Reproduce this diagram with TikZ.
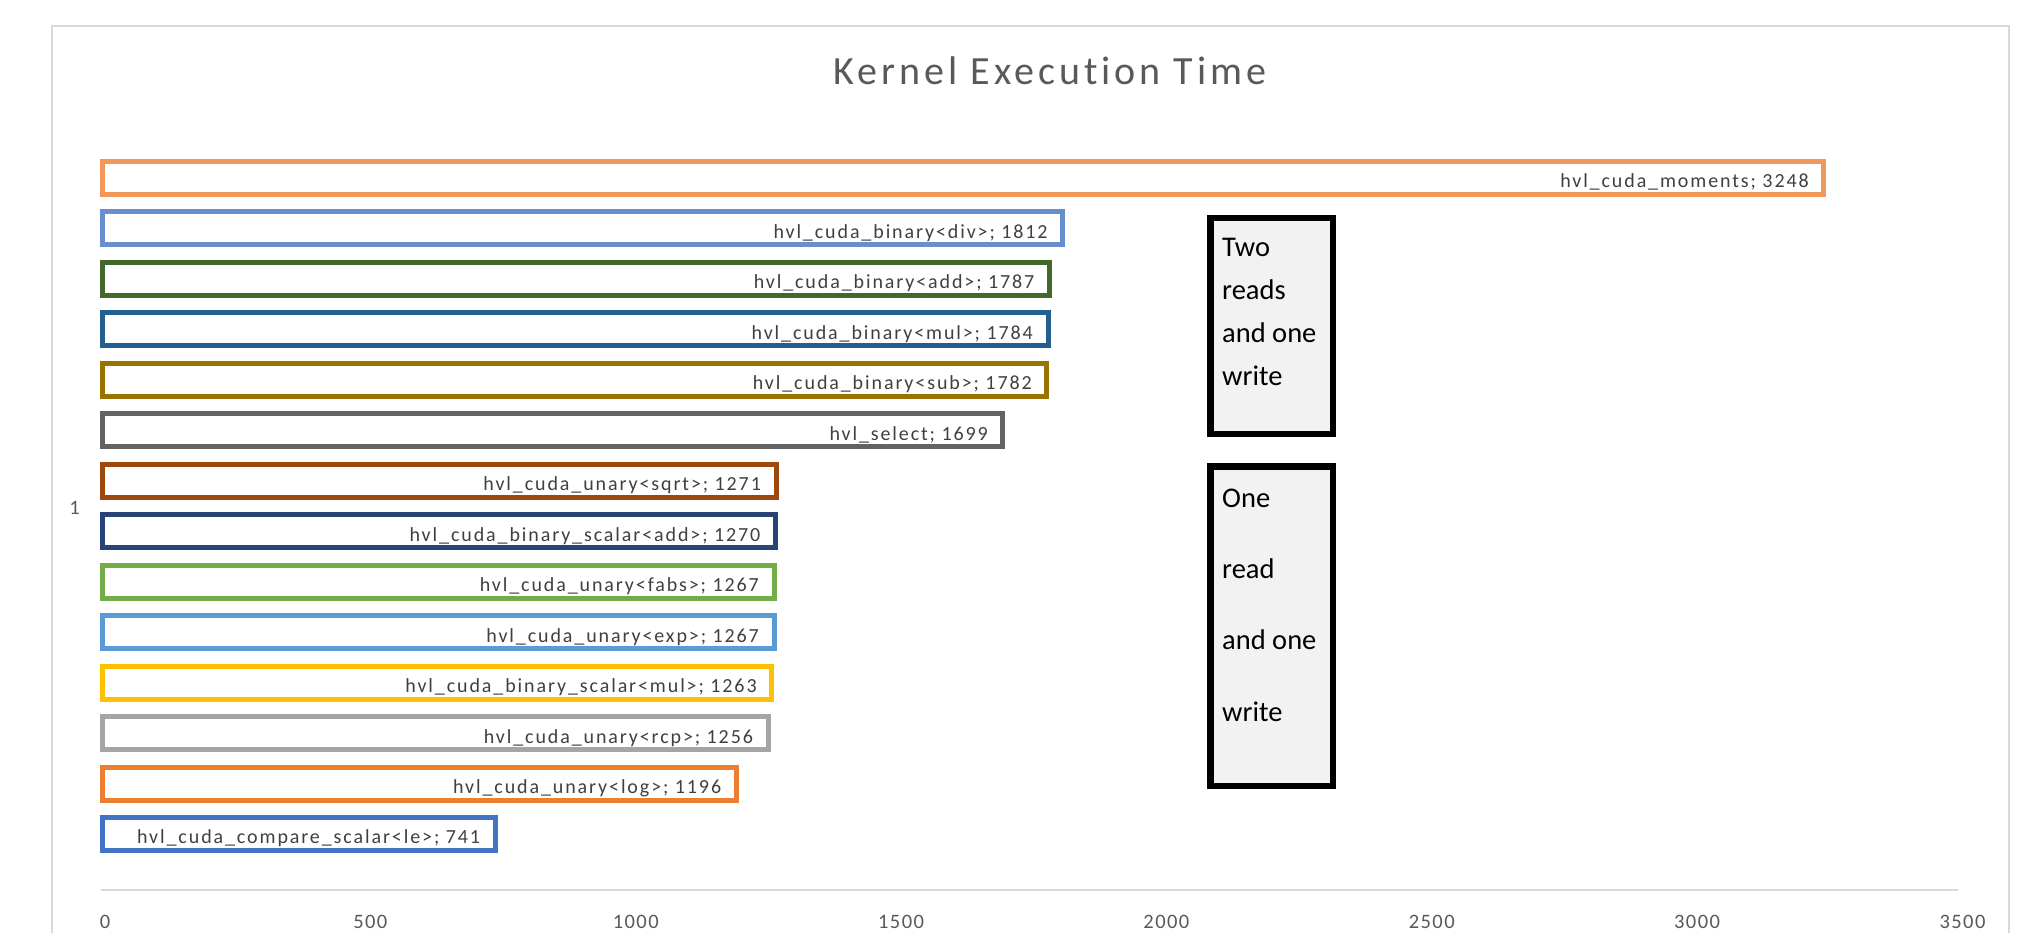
\documentclass[tikz,border=0pt]{standalone}
\usepackage{fontspec}
\setmainfont{Carlito}
\newfontfamily\titlefont[LetterSpace=10,Ligatures=NoCommon]{Carlito}
\newfontfamily\labelfont[LetterSpace=9.5,Ligatures=NoCommon]{Carlito}
\newfontfamily\tickfont[LetterSpace=7,Ligatures=NoCommon]{Carlito}

\definecolor{gridgray}{HTML}{D9D9D9}
\definecolor{axisgray}{HTML}{595959}
\definecolor{labelgray}{HTML}{404040}
\definecolor{notefill}{HTML}{F2F2F2}
% series colours
\definecolor{cA}{HTML}{F1975A}
\definecolor{cB}{HTML}{698ED0}
\definecolor{cC}{HTML}{43682B}
\definecolor{cD}{HTML}{255E91}
\definecolor{cE}{HTML}{997300}
\definecolor{cF}{HTML}{636363}
\definecolor{cG}{HTML}{9E480E}
\definecolor{cH}{HTML}{264478}
\definecolor{cI}{HTML}{70AD47}
\definecolor{cJ}{HTML}{5B9BD5}
\definecolor{cK}{HTML}{FFC000}
\definecolor{cL}{HTML}{A5A5A5}
\definecolor{cM}{HTML}{ED7D31}
\definecolor{cN}{HTML}{4472C4}

\tikzset{
  barbox/.style={rectangle, line width=5pt, fill=white, minimum height=33pt,
    inner sep=0pt, outer sep=0pt, anchor=west},
  barlabel/.style={font=\labelfont\fontsize{20}{24}\selectfont, text=labelgray,
    inner sep=0pt, anchor=base east},
  ticklabel/.style={font=\tickfont\fontsize{20.5}{24}\selectfont, text=axisgray,
    inner sep=0pt, anchor=base},
  notebox/.style={rectangle, draw=black, fill=notefill, line width=6.5pt,
    inner sep=0pt, outer sep=0pt, anchor=north west, minimum width=122.5pt},
  notetext/.style={align=left, inner sep=0pt, anchor=base west, text=black},
}

% \kbar{name}{row}{value}{colour}{label}
\newcommand{\kbar}[5]{%
  \node[barbox, draw=#4, minimum width={#3*0.53pt}] (#1) at (102.5,{178+50.46*#2}) {};
  \node[barlabel] (#1-lbl) at ([xshift=-15pt,yshift=-10pt]#1.east) {#5};
}

\begin{document}
\begin{tikzpicture}[x=1pt,y=-1pt]
  \useasboundingbox (0,0) rectangle (2029,933);
  \fill[white] (0,0) rectangle (2029,933);

  % chart frame
  \draw[gridgray, line width=2pt] (52,933) -- (52,26) -- (2009,26) -- (2009,933);

  % title
  \node[font=\titlefont\fontsize{40}{48}\selectfont, text=axisgray, inner sep=0pt, anchor=base]
    (title) at (1050,85) {Kernel Execution Time};

  % category label
  \node[font=\tickfont\fontsize{20.5}{24}\selectfont, text=axisgray, inner sep=0pt, anchor=base]
    (cat) at (74.5,514) {1};

  % value axis
  \coordinate (axL) at (101,890);
  \coordinate (axR) at (1958,890);
  \draw[gridgray, line width=2pt] (axL) -- (axR);
  \foreach \v [count=\k from 0] in {0,500,1000,1500,2000,2500,3000,3500}
    \node[ticklabel] (tick\k) at ({105+0.5307*\v},928) {\v};

  % bars
  \kbar{moments}{0}{3248}{cA}{hvl\_cuda\_moments; 3248}
  \kbar{bdiv}{1}{1812}{cB}{hvl\_cuda\_binary<div>; 1812}
  \kbar{badd}{2}{1787}{cC}{hvl\_cuda\_binary<add>; 1787}
  \kbar{bmul}{3}{1784}{cD}{hvl\_cuda\_binary<mul>; 1784}
  \kbar{bsub}{4}{1782}{cE}{hvl\_cuda\_binary<sub>; 1782}
  \kbar{sel}{5}{1699}{cF}{hvl\_select; 1699}
  \kbar{usqrt}{6}{1271}{cG}{hvl\_cuda\_unary<sqrt>; 1271}
  \kbar{bsadd}{7}{1270}{cH}{hvl\_cuda\_binary\_scalar<add>; 1270}
  \kbar{ufabs}{8}{1267}{cI}{hvl\_cuda\_unary<fabs>; 1267}
  \kbar{uexp}{9}{1267}{cJ}{hvl\_cuda\_unary<exp>; 1267}
  \kbar{bsmul}{10}{1263}{cK}{hvl\_cuda\_binary\_scalar<mul>; 1263}
  \kbar{urcp}{11}{1256}{cL}{hvl\_cuda\_unary<rcp>; 1256}
  \kbar{ulog}{12}{1196}{cM}{hvl\_cuda\_unary<log>; 1196}
  \kbar{cmple}{13}{741}{cN}{hvl\_cuda\_compare\_scalar<le>; 741}

  % annotation boxes
  \node[notebox, minimum height=215.5pt] (tworeads) at (1210.25,218.25) {};
  \node[notetext, font=\fontsize{28.5}{42.7}\selectfont] (tworeads-txt) at (1222,385)
    {Two\\reads\\and one\\write};
  \node[notebox, minimum height=319.5pt] (oneread) at (1210.25,466.25) {};
  \node[notetext, font=\fontsize{28.5}{71.3}\selectfont] (oneread-txt) at (1222,721)
    {One\\read\\and one\\write};
\end{tikzpicture}
\end{document}
